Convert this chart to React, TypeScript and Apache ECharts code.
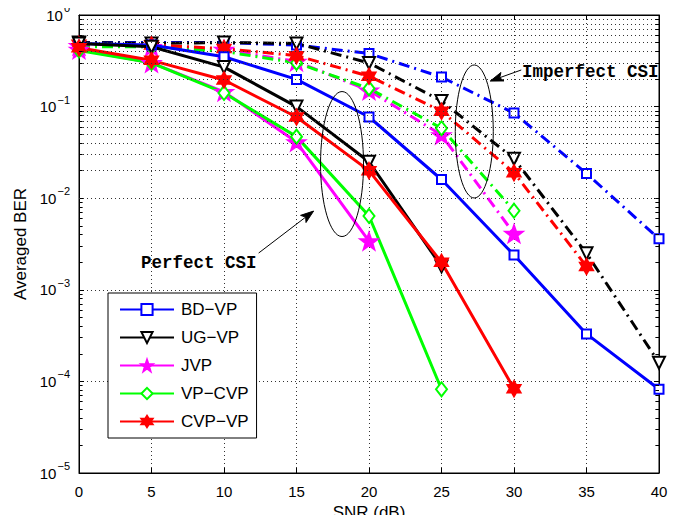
import React, { useEffect, useRef } from "react";
import * as echarts from "echarts";

// ---- data ----
const snr = [0, 5, 10, 15, 20, 25, 30, 35, 40];
const names = ["BD−VP", "UG−VP", "JVP", "VP−CVP", "CVP−VP"];
const colors = ["#0000ff", "#000000", "#ff00ff", "#00ff00", "#ff0000"];

// Perfect CSI (solid)
const bdvpPerfect = [0.49, 0.47, 0.35, 0.198, 0.077, 0.016, 0.0024, 0.00033, 0.000082];
const ugvpPerfect = [0.49, 0.45, 0.27, 0.1, 0.025, 0.0018];
const jvpPerfect = [0.42, 0.3, 0.145, 0.041, 0.0034];
const vpcvpPerfect = [0.41, 0.3, 0.141, 0.047, 0.0064, 0.000082];
const cvpvpPerfect = [0.44, 0.32, 0.195, 0.077, 0.02, 0.002, 0.000083];

// Imperfect CSI (dash-dot)
const bdvpImperfect = [0.5, 0.5, 0.5, 0.47, 0.38, 0.21, 0.085, 0.0186, 0.0036];
const ugvpImperfect = [0.5, 0.49, 0.5, 0.49, 0.3, 0.115, 0.027, 0.0025, 0.00016];
const jvpImperfect = [0.46, 0.45, 0.42, 0.31, 0.15, 0.049, 0.0041];
const vpcvpImperfect = [0.45, 0.45, 0.4, 0.3, 0.158, 0.058, 0.0073];
const cvpvpImperfect = [0.48, 0.47, 0.43, 0.36, 0.215, 0.089, 0.019, 0.0018];

const perfectSets = [bdvpPerfect, ugvpPerfect, jvpPerfect, vpcvpPerfect, cvpvpPerfect];
const imperfectSets = [bdvpImperfect, ugvpImperfect, jvpImperfect, vpcvpImperfect, cvpvpImperfect];

const xMin = 0;
const xMax = 40;
const xInterval = 5;
const yMin = 1e-5;
const yMax = 1;

// annotations (data coordinates)
const perfectEllipse = { x: 18.14, y: 0.0236, rx: 21.5, ry: 72.5 };
const imperfectEllipse = { x: 27.26, y: 0.0535, rx: 19, ry: 66.5 };
const perfectArrow = { from: [12.39, 0.00252], to: [16.18, 0.00724] };
const imperfectArrow = { from: [30.5, 0.251], to: [28.36, 0.19] };
const perfectLabel = { text: "Perfect CSI", x: 4.27, y: 0.00196 };
const imperfectLabel = { text: "Imperfect CSI", x: 30.55, y: 0.239 };

function starPath(n: number, outer: number, inner: number) {
  let d = "";
  for (let i = 0; i < 2 * n; i++) {
    const r = i % 2 ? inner : outer;
    const a = -Math.PI / 2 + (i * Math.PI) / n;
    const x = outer + r * Math.cos(a);
    const y = outer + r * Math.sin(a);
    d += (i ? "L" : "M") + x.toFixed(2) + "," + y.toFixed(2);
  }
  return "path://" + d + "Z";
}

const FONT = '"Liberation Sans", Arial, Helvetica, sans-serif';
const MONO = '"Liberation Mono", "DejaVu Sans Mono", monospace';

const symbols: any[] = [
  { symbol: "emptyRect", symbolSize: 9, rotate: 0 },
  { symbol: "emptyTriangle", symbolSize: 12, rotate: 180 },
  { symbol: starPath(5, 10, 4), symbolSize: 17, rotate: 0 },
  { symbol: "emptyDiamond", symbolSize: [11, 14], rotate: 0 },
  { symbol: starPath(6, 10, 5.77), symbolSize: 15, rotate: 0 },
];

function makeSeries(vals: number[], idx: number, dashed: boolean) {
  const s = symbols[idx];
  return {
    type: "line",
    name: names[idx],
    data: vals.map((v, i) => [snr[i], v]),
    symbol: s.symbol,
    symbolSize: s.symbolSize,
    symbolRotate: s.rotate,
    symbolKeepAspect: true,
    showAllSymbol: true,
    z: dashed ? 2 : 3,
    lineStyle: {
      color: colors[idx],
      width: 3,
      type: dashed ? [11, 5, 2, 5] : "solid",
      cap: "butt",
    },
    itemStyle: {
      color: colors[idx],
      borderColor: colors[idx],
      borderWidth: 2,
    },
    emphasis: { disabled: true },
  };
}

export default function App() {
  const ref = useRef<HTMLDivElement>(null);
  useEffect(() => {
    if (!ref.current) return;
    const chart = echarts.init(ref.current, null, { renderer: "svg" });

    const minorVals: number[] = [];
    for (let e = -5; e < 0; e++) {
      for (let m = 2; m <= 9; m++) minorVals.push(m * Math.pow(10, e));
    }

    const series: any[] = [];
    perfectSets.forEach((v, i) => series.push(makeSeries(v, i, false)));
    imperfectSets.forEach((v, i) => series.push(makeSeries(v, i, true)));

    // minor grid lines and minor ticks
    series.push({
      type: "line",
      name: "minor",
      data: [],
      silent: true,
      z: 1,
      markLine: {
        silent: true,
        symbol: "none",
        animation: false,
        label: { show: false },
        lineStyle: { color: "#333", width: 1, type: [1, 3] },
        emphasis: { disabled: true },
        data: minorVals.map((v) => ({ yAxis: v })),
      },
    });
    series.push({
      type: "line",
      name: "minorTicks",
      data: [],
      silent: true,
      z: 1,
      markLine: {
        silent: true,
        symbol: "none",
        animation: false,
        label: { show: false },
        lineStyle: { color: "#000", width: 1, type: "solid" },
        emphasis: { disabled: true },
        data: minorVals.flatMap((v) => [
          [{ coord: [xMin, v] }, { coord: [xMin + 0.25, v] }],
          [{ coord: [xMax - 0.25, v] }, { coord: [xMax, v] }],
        ]),
      },
    });

    const gridLine = { show: true, lineStyle: { color: "#333", width: 1, type: [1, 3] } };

    chart.setOption({
      animation: false,
      backgroundColor: "#fff",
      grid: {
        left: 79,
        right: 24,
        top: 15,
        bottom: 50,
        show: true,
        borderColor: "#000",
        borderWidth: 1,
        backgroundColor: "#fff",
        outerBoundsMode: "none",
      },
      legend: {
        data: names,
        orient: "vertical",
        left: 108,
        top: 293,
        itemWidth: 54,
        itemHeight: 14,
        itemGap: 11,
        padding: [8, 8, 8, 11],
        backgroundColor: "#fff",
        borderColor: "#000",
        borderWidth: 1,
        borderRadius: 0,
        selectedMode: false,
        textStyle: { fontSize: 17, fontFamily: FONT, color: "#000", padding: [0, 0, 0, 2] },
      },
      xAxis: [
        {
          type: "value",
          min: xMin,
          max: xMax,
          interval: xInterval,
          name: "SNR (dB)",
          nameLocation: "middle",
          nameGap: 24,
          nameTextStyle: { fontSize: 17, fontFamily: FONT, color: "#000" },
          axisLine: { show: true, onZero: false, lineStyle: { color: "#000", width: 1 } },
          axisTick: { show: true, inside: true, length: 5, lineStyle: { color: "#000" } },
          axisLabel: { fontSize: 15, fontFamily: FONT, color: "#000", margin: 11 },
          splitLine: gridLine,
        },
        {
          type: "value",
          min: xMin,
          max: xMax,
          interval: xInterval,
          position: "top",
          axisLine: { show: true, onZero: false, lineStyle: { color: "#000", width: 1 } },
          axisTick: { show: true, inside: true, length: 5, lineStyle: { color: "#000" } },
          axisLabel: { show: false },
          splitLine: { show: false },
        },
      ],
      yAxis: [
        {
          type: "log",
          logBase: 10,
          min: yMin,
          max: yMax,
          name: "Averaged BER",
          nameLocation: "middle",
          nameGap: 44,
          nameTextStyle: { fontSize: 17, fontFamily: FONT, color: "#000" },
          axisLine: { show: true, onZero: false, lineStyle: { color: "#000", width: 1 } },
          axisTick: { show: true, inside: true, length: 5, lineStyle: { color: "#000" } },
          axisLabel: {
            margin: 9,
            color: "#000",
            formatter: (v: number) => {
              const e = Math.round(Math.log10(v));
              const es = e < 0 ? "−" + Math.abs(e) : String(e);
              return "{b|10}{s|" + es + "}";
            },
            rich: {
              b: { fontSize: 15, fontFamily: FONT, color: "#000" },
              s: {
                fontSize: 11,
                fontFamily: FONT,
                color: "#000",
                padding: [0, 0, 14, 1],
              },
            },
          },
          splitLine: gridLine,
        },
        {
          type: "log",
          logBase: 10,
          min: yMin,
          max: yMax,
          position: "right",
          axisLine: { show: true, onZero: false, lineStyle: { color: "#000", width: 1 } },
          axisTick: { show: true, inside: true, length: 5, lineStyle: { color: "#000" } },
          axisLabel: { show: false },
          splitLine: { show: false },
        },
      ],
      series,
    });

    const P = (x: number, y: number) =>
      chart.convertToPixel({ xAxisIndex: 0, yAxisIndex: 0 } as any, [x, y]) as number[];

    const arrow = (a: { from: number[]; to: number[] }) => {
      const f = P(a.from[0], a.from[1]);
      const t = P(a.to[0], a.to[1]);
      const dx = t[0] - f[0];
      const dy = t[1] - f[1];
      const len = Math.hypot(dx, dy);
      const ux = dx / len;
      const uy = dy / len;
      const hl = 13;
      const hw = 4.5;
      const bx = t[0] - ux * hl;
      const by = t[1] - uy * hl;
      return [
        {
          type: "line",
          shape: { x1: f[0], y1: f[1], x2: bx + ux * 3, y2: by + uy * 3 },
          style: { stroke: "#000", lineWidth: 1 },
          z: 100,
        },
        {
          type: "polygon",
          shape: {
            points: [
              [t[0], t[1]],
              [bx - uy * hw, by + ux * hw],
              [bx + ux * 3, by + uy * 3],
              [bx + uy * hw, by - ux * hw],
            ],
          },
          style: { fill: "#000", stroke: "#000", lineWidth: 1 },
          z: 100,
        },
      ];
    };

    const ellipse = (e: { x: number; y: number; rx: number; ry: number }) => {
      const c = P(e.x, e.y);
      return {
        type: "ellipse",
        shape: { cx: c[0], cy: c[1], rx: e.rx, ry: e.ry },
        style: { fill: "none", stroke: "#000", lineWidth: 1 },
        z: 100,
      };
    };

    const label = (l: { text: string; x: number; y: number }) => {
      const p = P(l.x, l.y);
      return {
        type: "text",
        x: p[0],
        y: p[1],
        z: 100,
        style: {
          text: l.text,
          fontFamily: MONO,
          fontWeight: "bold",
          fontSize: 17.5,
          fill: "#000",
          align: "left",
          verticalAlign: "middle",
        },
      };
    };

    chart.setOption({
      graphic: [
        ellipse(perfectEllipse),
        ellipse(imperfectEllipse),
        ...arrow(perfectArrow),
        ...arrow(imperfectArrow),
        label(perfectLabel),
        label(imperfectLabel),
      ],
    });

    return () => chart.dispose();
  }, []);

  return <div ref={ref} style={{ width: 683, height: 523, margin: -8 }} />;
}
